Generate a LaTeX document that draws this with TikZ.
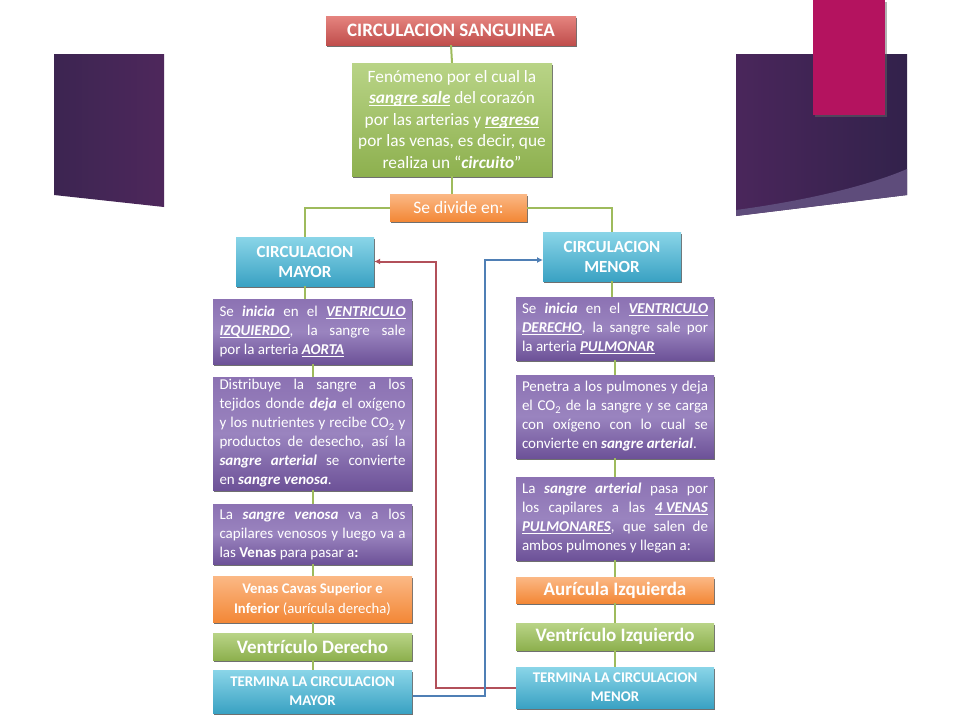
\documentclass[tikz,border=0pt]{standalone}
\usepackage{fontspec}
\setmainfont{Carlito}
\usetikzlibrary{shadows,arrows.meta}
\definecolor{redT}{HTML}{E5847F}
\definecolor{redB}{HTML}{C04E4C}
\definecolor{grnT}{HTML}{B9D487}
\definecolor{grnB}{HTML}{8DB04E}
\definecolor{orT}{HTML}{FBB885}
\definecolor{orB}{HTML}{F38837}
\definecolor{bluT}{HTML}{8AD5E8}
\definecolor{bluB}{HTML}{3AA2C3}
\definecolor{purT}{HTML}{8C72B3}
\definecolor{purM}{HTML}{9A84BF}
\definecolor{purB}{HTML}{6D5298}
\definecolor{lineG}{HTML}{9EBB5C}
\definecolor{lineR}{HTML}{B2505A}
\definecolor{lineB}{HTML}{4F7FB5}
\definecolor{bgL1}{HTML}{3C2551}
\definecolor{bgL2}{HTML}{4E275C}
\definecolor{bgR1}{HTML}{4A265B}
\definecolor{bgR2}{HTML}{32224B}
\definecolor{bgBand}{HTML}{5E4C7B}
\definecolor{magenta1}{HTML}{B4135F}
\newcommand{\myBI}[1]{\textbf{\textit{#1}}}
\newcommand{\myUL}[1]{\setbox0\hbox{#1}\rlap{\rule[-2.4pt]{\wd0}{1.3pt}}\box0\relax}
\newcommand{\myBIU}[1]{\myUL{\textbf{\textit{#1}}}}
\begin{document}
\begin{tikzpicture}[x=1pt,y=-1pt,
  box/.style={rectangle, inner sep=0pt, text=white, align=center,
    drop shadow={shadow xshift=1.2pt, shadow yshift=-1.6pt, fill=black!75, opacity=0.75}},
  redbox/.style={box, top color=redT, bottom color=redB},
  grnbox/.style={box, top color=grnT, bottom color=grnB},
  orbox/.style={box, top color=orT, bottom color=orB},
  blubox/.style={box, top color=bluT, bottom color=bluB},
  purbox/.style={box, top color=purT, bottom color=purB, middle color=purM,
    text width=186pt, align=justify, minimum width=199pt,
    font=\fontsize{15}{19}\selectfont},
  gline/.style={draw=lineG, line width=2pt},
  rarrow/.style={draw=lineR, line width=2pt, -{Latex[length=6pt,width=6pt]}},
  barrow/.style={draw=lineB, line width=2pt, -{Latex[length=6pt,width=6pt]}}
]
\useasboundingbox (0,0) rectangle (960,720);
\fill[white] (0,0) rectangle (960,720);
% slide decorations
\shade[left color=bgL1, right color=bgL2] (54,54) -- (164,54) -- (164,207) -- (54,195) -- cycle;
\shade[left color=bgR1, right color=bgR2] (736,54) -- (907,54) -- (907,195) -- (736,216) -- cycle;
\fill[bgBand] (736,210) .. controls (810,200) and (870,185) .. (907,169) -- (907,195) -- (736,216) -- cycle;
\fill[black!60, opacity=0.5] (815,2) rectangle (887,117);
\fill[magenta1] (813,0) rectangle (885,115);

% top nodes
\node[redbox, minimum width=250pt, minimum height=29pt, font=\fontsize{19}{22}\selectfont\bfseries] (title) at (451,30.5) {CIRCULACION SANGUINEA};
\node[grnbox, minimum width=200pt, minimum height=113pt, font=\fontsize{17.3}{21.5}\selectfont] (def) at (452,119.5)
  {Fenómeno por el cual la\\ \myBIU{sangre sale} del corazón\\ por las arterias y \myBIU{regresa}\\ por las venas, es decir, que\\ realiza un “\myBI{circuito}”};
\node[orbox, minimum width=137pt, minimum height=27pt, font=\fontsize{17.5}{20}\selectfont] (divide) at (458.5,207.5) {Se divide en:};
\node[blubox, minimum width=138pt, minimum height=49pt, font=\fontsize{17}{20}\selectfont\bfseries] (mayor) at (305,261.5) {CIRCULACION\\MAYOR};
\node[blubox, minimum width=138pt, minimum height=49pt, font=\fontsize{17}{20}\selectfont\bfseries] (menor) at (612,256.5) {CIRCULACION\\MENOR};

% left column
\node[purbox, minimum height=65pt] (L1) at (312.5,331.5)
  {Se \myBI{inicia} en el \myBIU{VENTRICULO}\linebreak \myBIU{IZQUIERDO}, la sangre sale\linebreak por la arteria \myBIU{AORTA}};
\node[purbox, minimum height=113pt] (L2) at (312.5,433.5)
  {Distribuye la sangre a los\linebreak tejidos donde \myBI{deja} el oxígeno\linebreak y los nutrientes y recibe CO\textsubscript{2} y\linebreak productos de desecho, así la\linebreak \myBI{sangre arterial} se convierte\linebreak en \myBI{sangre venosa}.};
\node[purbox, minimum height=60pt] (L3) at (312.5,534)
  {La \myBI{sangre venosa} va a los\linebreak capilares venosos y luego va a\linebreak las \textbf{Venas} para pasar a\textbf{:}};
\node[orbox, minimum width=199pt, minimum height=46pt, font=\fontsize{14.7}{20}\selectfont] (L4) at (312.5,599)
  {\textbf{Venas Cavas Superior e}\\ \textbf{Inferior} (aurícula derecha)};
\node[grnbox, minimum width=199pt, minimum height=27pt, font=\fontsize{19}{21}\selectfont\bfseries] (L5) at (312.5,646.5) {Ventrículo Derecho};
\node[blubox, minimum width=199pt, minimum height=43pt, font=\fontsize{14.8}{19}\selectfont\bfseries] (L6) at (312.5,691.5) {TERMINA LA CIRCULACION\\MAYOR};

% right column
\node[purbox, minimum width=198pt, minimum height=63pt] (R1) at (615,328.5)
  {Se \myBI{inicia} en el \myBIU{VENTRICULO}\linebreak \myBIU{DERECHO}, la sangre sale por\linebreak la arteria \myBIU{PULMONAR}};
\node[purbox, minimum width=198pt, minimum height=83pt] (R2) at (615,416.5)
  {Penetra a los pulmones y deja\linebreak el CO\textsubscript{2} de la sangre y se carga\linebreak con oxígeno con lo cual se\linebreak convierte en \myBI{sangre arterial}.};
\node[purbox, minimum width=198pt, minimum height=83pt] (R3) at (615,518.5)
  {La \myBI{sangre arterial} pasa por\linebreak los capilares a las \myBIU{4 VENAS}\linebreak \myBIU{PULMONARES}, que salen de\linebreak ambos pulmones y llegan a:};
\node[orbox, minimum width=198pt, minimum height=26pt, font=\fontsize{19}{21}\selectfont\bfseries] (R4) at (615,590) {Aurícula Izquierda};
\node[grnbox, minimum width=198pt, minimum height=27pt, font=\fontsize{19}{21}\selectfont\bfseries] (R5) at (615,636.5) {Ventrículo Izquierdo};
\node[blubox, minimum width=198pt, minimum height=41pt, font=\fontsize{14.8}{19}\selectfont\bfseries] (R6) at (615,687.5) {TERMINA LA CIRCULACION\\MENOR};

% green connectors
\draw[gline] (title.south) -- (def.north);
\draw[gline] (def.south) -- (divide.north -| def.south);
\draw[gline] (divide.west) -- (divide.west -| mayor.north) -- (mayor.north);
\draw[gline] (divide.east) -- (divide.east -| menor.north) -- (menor.north);
\draw[gline] (mayor.south) -- (L1.north -| mayor.south);
\draw[gline] (L1.south) -- (L2.north);
\draw[gline] (L2.south) -- (L3.north);
\draw[gline] (L3.south) -- (L4.north);
\draw[gline] (L4.south) -- (L5.north);
\draw[gline] (L5.south) -- (L6.north);
\draw[gline] (menor.south) -- (R1.north -| menor.south);
\draw[gline] (R1.south) -- (R2.north);
\draw[gline] (R2.south) -- (R3.north);
\draw[gline] (R3.south) -- (R4.north);
\draw[gline] (R4.south) -- (R5.north);
\draw[gline] (R5.south) -- (R6.north);

% return arrows
\coordinate (rA) at (436,687.5);
\coordinate (rB) at (436,261.5);
\draw[rarrow] (R6.west) -- (rA) -- (rB) -- (mayor.east);
\coordinate (bS) at (413,696);
\coordinate (bA) at (485,696);
\coordinate (bB) at (485,260);
\coordinate (bE) at (543,260);
\draw[barrow] (bS) -- (bA) -- (bB) -- (bE);
\end{tikzpicture}
\end{document}
